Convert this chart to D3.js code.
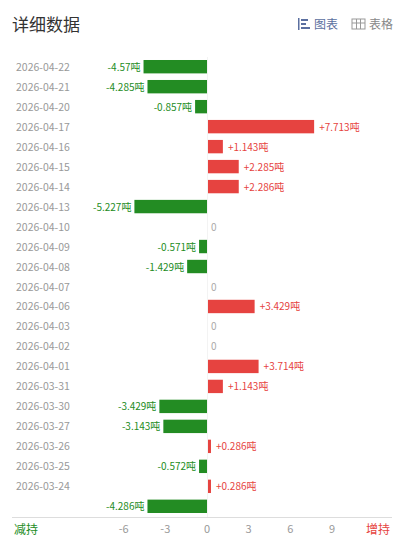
<!DOCTYPE html>
<html><head><meta charset="utf-8">
<script src="https://cdn.jsdelivr.net/npm/d3@7"></script>
<style>body{margin:0;background:#fff;font-family:"Noto Sans CJK SC","Noto Sans",sans-serif}</style>
</head><body><svg id="c" width="408" height="549"></svg>
<script>
const dates = ["2026-04-22","2026-04-21","2026-04-20","2026-04-17","2026-04-16","2026-04-15","2026-04-14","2026-04-13","2026-04-10","2026-04-09","2026-04-08","2026-04-07","2026-04-06","2026-04-03","2026-04-02","2026-04-01","2026-03-31","2026-03-30","2026-03-27","2026-03-26","2026-03-25","2026-03-24",""];
const values = [-4.57,-4.285,-0.857,7.713,1.143,2.285,2.286,-5.227,0,-0.571,-1.429,0,3.429,0,0,3.714,1.143,-3.429,-3.143,0.286,-0.572,0.286,-4.286];
const labels = ["-4.57","-4.285","-0.857","+7.713","+1.143","+2.285","+2.286","-5.227","0","-0.571","-1.429","0","+3.429","0","0","+3.714","+1.143","-3.429","-3.143","+0.286","-0.572","+0.286","-4.286"];
const ticks = [-6,-3,0,3,6,9];

const svg = d3.select("#c");
const x = d3.scaleLinear().domain([0,9]).range([207,332]);
const y = d3.scaleBand().domain(d3.range(values.length)).range([57,516]).paddingInner(0.33).paddingOuter(0.15);
const green = "#238c23", red = "#e64340";

svg.append("text").attr("x",12).attr("y",31).attr("font-size",17).attr("fill","#333").text("详细数据");
svg.append("text").attr("x",314).attr("y",29).attr("font-size",12).attr("fill","#5b6fa0").text("图表");
svg.append("text").attr("x",369).attr("y",29).attr("font-size",12).attr("fill","#888").text("表格");
// icons
const ic = svg.append("g").attr("fill","#5b6fa0");
ic.append("rect").attr("x",298).attr("y",18).attr("width",1.5).attr("height",12);
[[301,19,7],[301,23,5],[301,27,9]].forEach(d=>ic.append("rect").attr("x",d[0]).attr("y",d[1]).attr("width",d[2]).attr("height",2));
svg.append("rect").attr("x",352).attr("y",19).attr("width",13).attr("height",10).attr("fill","none").attr("stroke","#999");
svg.append("line").attr("x1",352).attr("x2",365).attr("y1",23).attr("y2",23).attr("stroke","#999");
[356.5,360.5].forEach(v=>svg.append("line").attr("x1",v).attr("x2",v).attr("y1",19).attr("y2",29).attr("stroke","#999"));

const row = svg.selectAll("g.r").data(values).join("g").attr("class","r");
row.append("text").attr("x",16).attr("y",(d,i)=>y(i)+y.bandwidth()/2+4).attr("font-size",10.5).attr("fill","#999").text((d,i)=>dates[i]);
row.append("rect")
  .attr("x",d=>x(Math.min(0,d))).attr("y",(d,i)=>y(i))
  .attr("width",d=>Math.abs(x(d)-x(0))).attr("height",y.bandwidth())
  .attr("fill",d=>d<0?green:red);
row.append("text")
  .attr("x",d=>d<0?x(d)-3:x(d)+(d===0?4:5))
  .attr("y",(d,i)=>y(i)+y.bandwidth()/2+4)
  .attr("text-anchor",d=>d<0?"end":"start")
  .attr("font-size",10).attr("fill",d=>d<0?green:d>0?red:"#aaa")
  .text((d,i)=>d===0?"0":labels[i]+"吨");

svg.append("line").attr("x1",12).attr("x2",392).attr("y1",517.5).attr("y2",517.5).attr("stroke","#ddd");
svg.append("line").attr("x1",x(0)+0.5).attr("x2",x(0)+0.5).attr("y1",57).attr("y2",517).attr("stroke","#f3f3f3");
svg.append("g").selectAll("text").data(ticks).join("text").attr("x",d=>x(d)).attr("y",533)
  .attr("text-anchor","middle").attr("font-size",11).attr("fill","#999").text(d=>d);
svg.append("text").attr("x",14).attr("y",534).attr("font-size",12).attr("fill",green).text("减持");
svg.append("text").attr("x",390).attr("y",534).attr("text-anchor","end").attr("font-size",12).attr("fill",red).text("增持");
</script></body></html>
